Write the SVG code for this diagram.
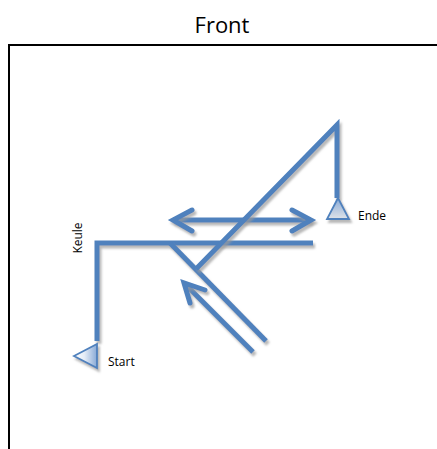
<svg xmlns="http://www.w3.org/2000/svg" width="437" height="449" viewBox="0 0 437 449">
  <style>
    .label { font-family: "Open Sans", "Liberation Sans", sans-serif; fill: #000; }
    .route { fill: none; stroke: #4F81BD; stroke-width: 5; stroke-linejoin: miter; stroke-linecap: butt; filter: url(#shadow); }
    .head { fill: none; stroke: #4F81BD; stroke-width: 5; stroke-linejoin: miter; stroke-linecap: round; filter: url(#shadow); }
    .marker { stroke: #4F81BD; stroke-width: 1.8; stroke-linejoin: miter; filter: url(#shadow); }
  </style>
  <defs>
    <!-- user-space region so straight horizontal/vertical strokes keep their shadow -->
    <filter id="shadow" filterUnits="userSpaceOnUse" x="0" y="0" width="437" height="449">
      <feGaussianBlur in="SourceAlpha" stdDeviation="0.8" result="blur"/>
      <feOffset in="blur" dx="2" dy="2.5" result="off"/>
      <feFlood flood-color="#9a9a9a" flood-opacity="0.7"/>
      <feComposite in2="off" operator="in" result="shade"/>
      <feMerge>
        <feMergeNode in="shade"/>
        <feMergeNode in="SourceGraphic"/>
      </feMerge>
    </filter>
    <linearGradient id="gradStart" x1="0" y1="0" x2="1" y2="0">
      <stop offset="0" stop-color="#ffffff"/>
      <stop offset="0.45" stop-color="#e6edf7"/>
      <stop offset="1" stop-color="#88a9d6"/>
    </linearGradient>
    <linearGradient id="gradEnde" x1="0" y1="0" x2="0" y2="1">
      <stop offset="0" stop-color="#88a9d6"/>
      <stop offset="1" stop-color="#dfe3e8"/>
    </linearGradient>
  </defs>

  <rect width="437" height="449" fill="#ffffff"/>

  <!-- frame -->
  <g id="frame">
    <path d="M9 449 V45 H437" fill="none" stroke="#000" stroke-width="2"/>
  </g>

  <g id="title">
    <text class="label" x="222" y="33" font-size="22" text-anchor="middle">Front</text>
  </g>

  <!-- path segments -->
  <g id="connectors">
    <!-- L-shaped lead from start -->
    <path class="route" d="M97 341 V243 H313"/>
    <!-- double-headed horizontal arrow -->
    <path class="route" d="M173 220 H311"/>
    <path class="head" d="M192 210 L173 220 L192 231 M292 210 L311 220 L292 231"/>
    <!-- diagonal down from the horizontal line -->
    <path class="route" d="M170 243 L266 341"/>
    <!-- parallel return arrow -->
    <path class="route" d="M253 352 L185 284"/>
    <path class="head" d="M190 303 L184 283 L205 290"/>
    <!-- long diagonal up to the end post -->
    <path class="route" d="M196 269 L337 125 V198"/>
  </g>

  <g id="start">
    <polygon class="marker" points="74,356 97,344 97,368" fill="url(#gradStart)"/>
    <text class="label" x="108" y="366" font-size="12">Start</text>
  </g>

  <g id="ende">
    <polygon class="marker" points="338,198 327,219 349,219" fill="url(#gradEnde)"/>
    <text class="label" x="358" y="220" font-size="12">Ende</text>
  </g>

  <g id="keule">
    <text class="label" transform="translate(82 238) rotate(-90)" font-size="12" text-anchor="middle">Keule</text>
  </g>
</svg>
